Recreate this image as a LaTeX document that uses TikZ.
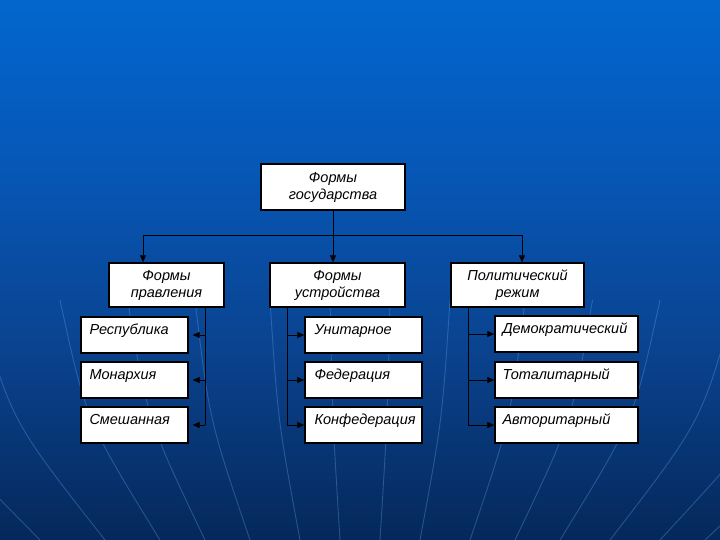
\documentclass[tikz,border=0pt]{standalone}
\usepackage{fontspec}
\setmainfont{Liberation Sans}
\usetikzlibrary{arrows.meta,calc}
\definecolor{bgA}{RGB}{3,102,206}
\definecolor{bgB}{RGB}{6,88,184}
\definecolor{bgC}{RGB}{10,68,145}
\definecolor{bgD}{RGB}{5,40,90}
\definecolor{meri}{RGB}{100,160,235}
\begin{document}
\begin{tikzpicture}[x=1pt,y=-1pt,
  box/.style={draw=black,line width=1.4pt,fill=white,inner sep=0pt},
  hbox/.style={box,align=center,font=\fontsize{14.5}{17}\selectfont\itshape},
  lbl/.style={font=\fontsize{14.5}{17}\selectfont\itshape,inner sep=0pt},
  arr/.style={-{Triangle[length=7pt,width=6pt]},line width=0.7pt},
  con/.style={line width=0.7pt},
  meridian/.style={draw=meri,line width=0.9pt,opacity=0.35}]
\useasboundingbox (0,0) rectangle (720,540);
% background
\fill[top color=bgA,bottom color=bgB] (0,0) rectangle (720,160.5);
\fill[top color=bgB,bottom color=bgC] (0,160) rectangle (720,340.5);
\fill[top color=bgC,bottom color=bgD] (0,340) rectangle (720,540);
\foreach \b in {40,105,160,205,250,300,340,380,420,470,515,560,610,660,705}{
  \draw[meridian] ({360+(\b-360)*1.5},300) .. controls ({(360+(\b-360)*1.5+\b)/2+(\b-360)*0.12},420) .. (\b,540);
}
% top box
\node[hbox,minimum width=144pt,minimum height=46pt] (top) at (333,187) {Формы\\государства};
% second row
\node[hbox,minimum width=115pt,minimum height=44pt] (pr) at (166.5,285) {Формы\\правления};
\node[hbox,minimum width=135pt,minimum height=44pt] (us) at (337.5,285) {Формы\\устройства};
\node[hbox,minimum width=133pt,minimum height=44pt] (pol) at (517.5,285) {Политический\\режим};
% left column
\node[box,minimum width=107pt,minimum height=36pt] (rep) at (134.5,335) {};
\node[box,minimum width=107pt,minimum height=36pt] (mon) at (134.5,380) {};
\node[box,minimum width=107pt,minimum height=36pt] (sme) at (134.5,425) {};
\node[lbl,anchor=base west] (repT) at ($(rep.north west)+(9,18)$) {Республика};
\node[lbl,anchor=base west] (monT) at ($(mon.north west)+(9,18)$) {Монархия};
\node[lbl,anchor=base west] (smeT) at ($(sme.north west)+(9,18)$) {Смешанная};
% middle column
\node[box,minimum width=117pt,minimum height=36pt] (uni) at (363.5,335) {};
\node[box,minimum width=117pt,minimum height=36pt] (fed) at (363.5,380) {};
\node[box,minimum width=117pt,minimum height=36pt] (kon) at (363.5,425) {};
\node[lbl,anchor=base west] (uniT) at ($(uni.north west)+(10,18)$) {Унитарное};
\node[lbl,anchor=base west] (fedT) at ($(fed.north west)+(10,18)$) {Федерация};
\node[lbl,anchor=base west] (konT) at ($(kon.north west)+(10,18)$) {Конфедерация};
% right column
\node[box,minimum width=143pt,minimum height=36pt] (dem) at (566.5,334) {};
\node[box,minimum width=143pt,minimum height=36pt] (tot) at (566.5,380) {};
\node[box,minimum width=143pt,minimum height=36pt] (avt) at (566.5,425) {};
\node[lbl,anchor=base west] (demT) at ($(dem.north west)+(8,18)$) {Демократический};
\node[lbl,anchor=base west] (totT) at ($(tot.north west)+(8,18)$) {Тоталитарный};
\node[lbl,anchor=base west] (avtT) at ($(avt.north west)+(8,18)$) {Авторитарный};
% top connectors
\coordinate (hub) at (333,235);
\coordinate (hubL) at (143,235);
\coordinate (hubR) at (522,235);
\draw[con] (top.south) -- (hub);
\draw[con] (hubL) -- (hubR);
\draw[arr] (hubL) -- (hubL |- pr.north);
\draw[arr] (hub) -- (hub |- us.north);
\draw[arr] (hubR) -- (hubR |- pol.north);
% left column connectors
\coordinate (lv) at (205,307);
\draw[con] (lv) -- (lv |- sme.east);
\foreach \n in {rep,mon,sme}{
  \draw[arr,shorten >=4pt] (lv |- \n.east) -- (\n.east);
}
% middle column connectors
\coordinate (mv) at (287,307);
\draw[con] (mv) -- (mv |- kon.west);
\foreach \n in {uni,fed,kon}{
  \draw[arr] (mv |- \n.west) -- (\n.west);
}
% right column connectors
\coordinate (rv) at (468,307);
\draw[con] (rv) -- (rv |- avt.west);
\foreach \n in {dem,tot,avt}{
  \draw[arr] (rv |- \n.west) -- (\n.west);
}
\end{tikzpicture}
\end{document}
